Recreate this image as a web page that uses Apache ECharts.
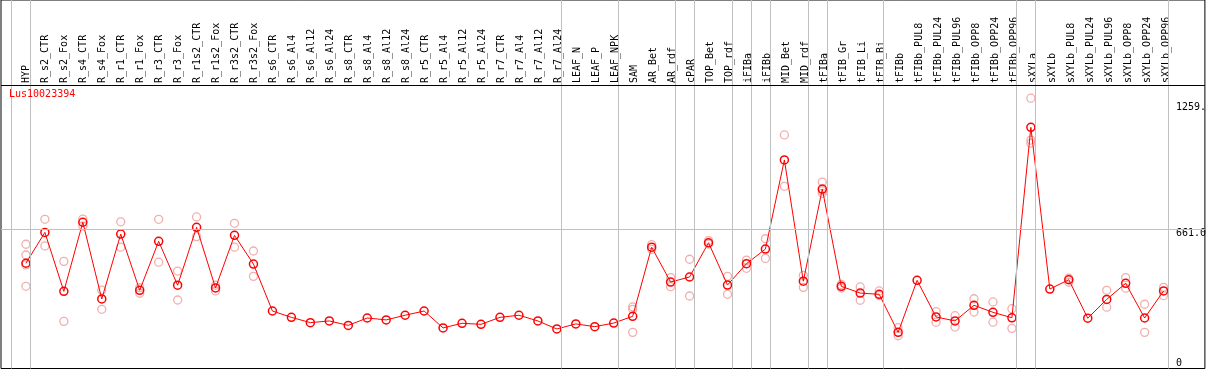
<!DOCTYPE html>
<html>
<head>
<meta charset="utf-8">
<title>Lus10023394</title>
<script src="https://cdn.jsdelivr.net/npm/echarts@6/dist/echarts.min.js"></script>
<style>
html,body{margin:0;padding:0;background:#fff;}
#main{width:1209px;height:370px;}
</style>
</head>
<body>
<div id="main"></div>
<script>
var geneName = 'Lus10023394';
var categories = ['HYP','R_s2_CTR','R_s2_Fox','R_s4_CTR','R_s4_Fox','R_r1_CTR','R_r1_Fox','R_r3_CTR','R_r3_Fox',
	'R_r1s2_CTR','R_r1s2_Fox','R_r3s2_CTR','R_r3s2_Fox','R_s6_CTR','R_s6_Al4','R_s6_Al12','R_s6_Al24',
	'R_s8_CTR','R_s8_Al4','R_s8_Al12','R_s8_Al24','R_r5_CTR','R_r5_Al4','R_r5_Al12','R_r5_Al24',
	'R_r7_CTR','R_r7_Al4','R_r7_Al12','R_r7_Al24','LEAF_N','LEAF_P','LEAF_NPK','SAM','AR_Bet','AR_rdf',
	'cPAR','TOP_Bet','TOP_rdf','iFIBa','iFIBb','MID_Bet','MID_rdf','tFIBa','tFIB_Gr','tFIB_Li','tFIB_Bi',
	'tFIBb','tFIBb_PUL8','tFIBb_PUL24','tFIBb_PUL96','tFIBb_OPP8','tFIBb_OPP24','tFIBb_OPP96',
	'sXYLa','sXYLb','sXYLb_PUL8','sXYLb_PUL24','sXYLb_PUL96','sXYLb_OPP8','sXYLb_OPP24','sXYLb_OPP96'];
// mean value of each sample
var means = [498,644,365,692,329,636,370,602,394,668,381,630,494,
	272,242,217,225,204,239,230,252,272,192,214,209,242,252,225,187,
	211,198,215,247,574,409,433,595,395,496,565,987,413,849,389,357,351,
	171,417,244,225,299,266,240,1141,376,420,238,327,403,239,367];
// replicate values (empty = only the mean is drawn)
var replicates = [[588,537,490,389],[706,580],[507,223],[707,674],[371,280],[694,574],[382,356],[706,503],[461,324],
	[717,624],[394,367],[687,574],[556,436],[],[],[],[],[],[],[],[],[],[],[],[],[],[],[],[],
	[],[],[],[292,280,171],[586,564],[430,387],[517,343],[605,589],[436,351],[513,474],[614,521],
	[1105,862],[441,384],[882,840,829],[398,381],[386,323],[367,345],
	[193,155],[],[269,219],[250,196],[330,267],[315,219],[283,190],
	[1279,1081,1066],[],[427,408],[],[370,290],[430,380],[304,171],[384,345]];
// samples after which a grey separator is drawn (-1 = left edge)
var groupEnds = [-1,0,28,31,34,35,37,38,39,41,42,45,52,53,60];
var yTickValues = [0,661,1259];
var yTickLabels = ['0','661.0','1259.'];

var font = 'DejaVu Sans Mono';
var myChart;

function yLabel(v){
	var i = yTickValues.indexOf(v);
	return i < 0 ? '' : yTickLabels[i];
}

function draw(){
	var meanData = [], repData = [], sepLines = [];
	$each(means, function(i, v){ meanData.push([i, v]); });
	$each(replicates, function(i, list){
		$each(list, function(j, v){ repData.push([i, v]); });
	});
	$each(groupEnds, function(k, i){ sepLines.push({xAxis: i + 0.237}); });
	sepLines.push({yAxis: 661});
	sepLines.push({yAxis: 1341.4, lineStyle: {color: '#000'}});

	var option = {
		animation: false,
		title: {
			text: geneName, left: 9, top: 89, padding: 0,
			textStyle: {color: '#f00', fontFamily: font, fontSize: 10, fontWeight: 'normal'}
		},
		grid: [
			{left: 1, right: 1, top: 0, bottom: 1.5, show: true, borderColor: '#000', borderWidth: 1, backgroundColor: '#fff'},
			{left: 16.5, width: 1159.6, top: 85, height: 280}
		],
		xAxis: [
			{type: 'value', gridIndex: 0, min: -1.315, max: 62.178, show: false},
			{type: 'category', gridIndex: 1, position: 'top', data: categories,
				axisLine: {show: false}, axisTick: {show: false}, splitLine: {show: false},
				axisLabel: {interval: 0, rotate: 90, margin: 2, color: '#000', fontFamily: font, fontSize: 10}}
		],
		yAxis: [
			{type: 'value', gridIndex: 0, min: 0, max: 1743.6, position: 'right',
				axisLine: {show: false}, axisTick: {show: false}, splitLine: {show: false},
				axisLabel: {inside: true, align: 'left', margin: 29, verticalAlign: 'top',
					customValues: yTickValues.slice(1), formatter: yLabel,
					color: '#000', fontFamily: font, fontSize: 10}},
			{type: 'value', gridIndex: 0, min: 0, max: 1743.6, position: 'right',
				axisLine: {show: false}, axisTick: {show: false}, splitLine: {show: false},
				axisLabel: {inside: true, align: 'left', margin: 29, verticalAlign: 'bottom',
					customValues: yTickValues.slice(0, 1), formatter: yLabel,
					color: '#000', fontFamily: font, fontSize: 10}},
			{type: 'value', gridIndex: 1, show: false}
		],
		series: [
			{
				name: 'replicates', type: 'scatter', xAxisIndex: 0, yAxisIndex: 0, z: 1,
				symbol: 'circle', symbolSize: 8, silent: true,
				itemStyle: {color: 'rgba(0,0,0,0)', borderColor: '#ee9a9a', borderWidth: 1.3},
				data: repData,
				markLine: {
					silent: true, symbol: 'none', label: {show: false},
					lineStyle: {color: '#c0c0c0', width: 1, type: 'solid'},
					data: sepLines
				}
			},
			{
				name: geneName, type: 'line', xAxisIndex: 0, yAxisIndex: 0, z: 3,
				symbol: 'circle', symbolSize: 8, showSymbol: true, silent: true,
				lineStyle: {color: '#f00', width: 1},
				itemStyle: {color: 'rgba(0,0,0,0)', borderColor: '#f00', borderWidth: 1.5},
				data: meanData
			}
		]
	};
	myChart = echarts.init(document.getElementById('main'));
	myChart.setOption(option);
}

function $each(arr, fn){
	for (var i = 0; i < arr.length; i++) fn(i, arr[i]);
}

draw();
</script>
</body>
</html>
